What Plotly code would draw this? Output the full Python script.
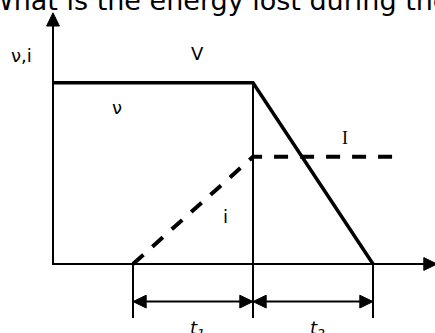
import plotly.graph_objects as go

# switching waveform (arbitrary units, 1 unit = 40 px)
t_on, t_sw, t_off = 2.0, 5.0, 8.0
V_level = 4.53
I_level = 2.68
i_end = 8.68

v_time = [0, t_sw, t_off]
v_vals = [V_level, V_level, 0]
i_time = [t_on, t_sw, i_end]
i_vals = [0, I_level, I_level]

x_axis_end = 9.6
y_axis_end = 6.28
dim_y = -0.94
tick_bottom = -1.35

ARROW_L = 0.33
ARROW_W = 0.16


def head(tx, ty, dx, dy):
    # filled triangle with tip at (tx, ty) pointing along (dx, dy)
    bx, by = tx - dx * ARROW_L, ty - dy * ARROW_L
    px, py = -dy * ARROW_W, dx * ARROW_W
    return [tx, bx + px, bx - px, tx], [ty, by + py, by - py, ty]


fig = go.Figure()


def line(xs, ys, width=2, dash="solid"):
    fig.add_trace(go.Scatter(x=xs, y=ys, mode="lines",
                             line=dict(color="black", width=width, dash=dash),
                             hoverinfo="skip"))


def arrow(tx, ty, dx, dy):
    xs, ys = head(tx, ty, dx, dy)
    fig.add_trace(go.Scatter(x=xs, y=ys, mode="lines", fill="toself",
                             fillcolor="black", line=dict(color="black", width=1),
                             hoverinfo="skip"))


# axes
line([0, 0, x_axis_end - ARROW_L], [y_axis_end - ARROW_L, 0, 0])
arrow(0, y_axis_end, 0, 1)
arrow(x_axis_end, 0, 1, 0)

# vertical guides and ticks
line([t_sw, t_sw], [V_level, tick_bottom], width=2)
line([t_on, t_on], [0, tick_bottom], width=2)
line([t_off, t_off], [0, tick_bottom], width=2)

# dimension arrows t1, t2
line([t_on + ARROW_L, t_sw - ARROW_L], [dim_y, dim_y])
line([t_sw + ARROW_L, t_off - ARROW_L], [dim_y, dim_y])
arrow(t_on, dim_y, -1, 0)
arrow(t_sw, dim_y, 1, 0)
arrow(t_sw, dim_y, -1, 0)
arrow(t_off, dim_y, 1, 0)

# voltage and current
line(v_time, v_vals, width=3.5)
line(i_time, i_vals, width=4, dash="14px,12px")

labels = [
    ("\u03bd,i", -0.78, 5.22, "DejaVu Sans"),
    ("V", 3.62, 5.27, "DejaVu Sans"),
    ("\u03bd", 1.6, 3.92, "DejaVu Sans"),
    ("I", 7.3, 3.15, "Liberation Serif"),
    ("i", 4.3, 1.2, "DejaVu Sans"),
    ("<i>t</i><sub><i>1</i></sub>", 3.6, -1.62, "DejaVu Sans"),
    ("<i>t</i><sub><i>2</i></sub>", 6.62, -1.62, "DejaVu Sans"),
]
for text, x, y, fam in labels:
    fig.add_annotation(x=x, y=y, text=text, showarrow=False,
                       font=dict(family=fam, size=18, color="black"))

fig.add_annotation(xref="paper", yref="paper", x=-15 / 435, y=1.0,
                   xanchor="left", yanchor="middle",
                   text="What is the energy lost during the", showarrow=False,
                   font=dict(family="DejaVu Sans", size=27, color="black"))

fig.update_layout(
    width=435, height=333,
    margin=dict(l=0, r=0, t=0, b=0),
    paper_bgcolor="white", plot_bgcolor="white",
    showlegend=False,
    xaxis=dict(range=[-1.325, 9.55], visible=False, fixedrange=True),
    yaxis=dict(range=[-1.725, 6.6], visible=False, fixedrange=True),
)

fig.write_html("out.html", config={"displayModeBar": False},
               post_script="document.body.style.margin='0';")
